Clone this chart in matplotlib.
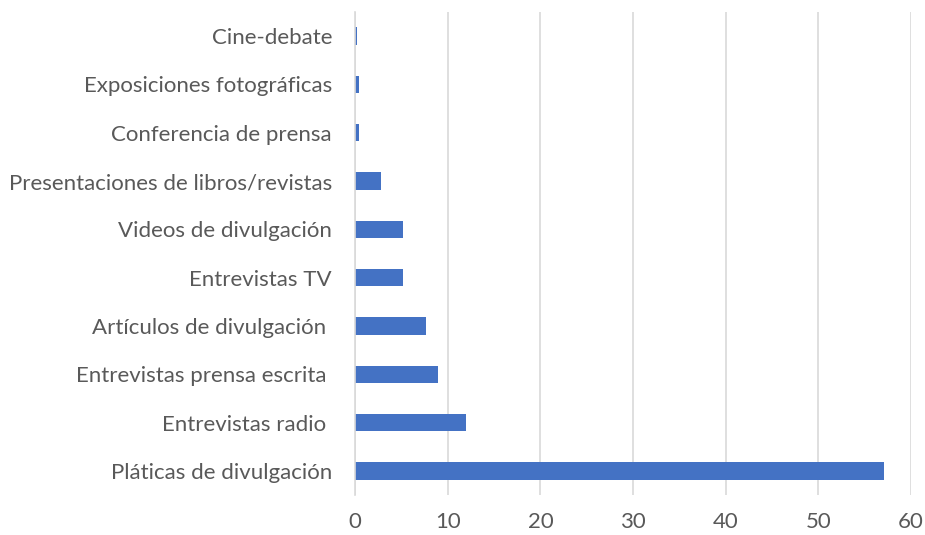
# Bar chart - actividades de divulgación
import numpy as np
import matplotlib.pyplot as plt

# data (bottom to top)
categories = ['Pláticas de divulgación', 'Entrevistas radio ', 'Entrevistas prensa escrita ',
              'Artículos de divulgación ', 'Entrevistas TV', 'Videos de divulgación',
              'Presentaciones de libros/revistas', 'Conferencia de prensa',
              'Exposiciones fotográficas', 'Cine-debate']
values = [57.1, 12, 9, 7.7, 5.2, 5.2, 2.8, 0.4, 0.4, 0.2]
xticks = [0, 10, 20, 30, 40, 50, 60]

plt.rcParams['font.family'] = ['Lato', 'DejaVu Sans']

fig = plt.figure(figsize=(9.25, 5.35), dpi=100)
ax = fig.add_axes([0.3838, 0.0748, 0.6012, 0.9028])

y = np.arange(len(categories))
ax.barh(y, values, height=0.36, color='#4472C4', zorder=3)

ax.set_xlim(0, 60)
ax.set_ylim(-0.5, len(categories) - 0.5)
ax.set_xticks(xticks)
ax.set_yticks(y)
ax.set_yticklabels(categories)

ax.grid(axis='x', color='#D9D9D9', linewidth=1.2, zorder=0)
for s in ['top', 'right', 'bottom']:
    ax.spines[s].set_visible(False)
ax.spines['left'].set_color('#D9D9D9')
ax.spines['left'].set_linewidth(1.2)
ax.spines['left'].set_zorder(4)

ax.tick_params(axis='both', length=0, labelsize=16, labelcolor='#595959')
ax.tick_params(axis='y', pad=16.5)
ax.tick_params(axis='x', pad=12)

plt.savefig('out.png', dpi=100)
